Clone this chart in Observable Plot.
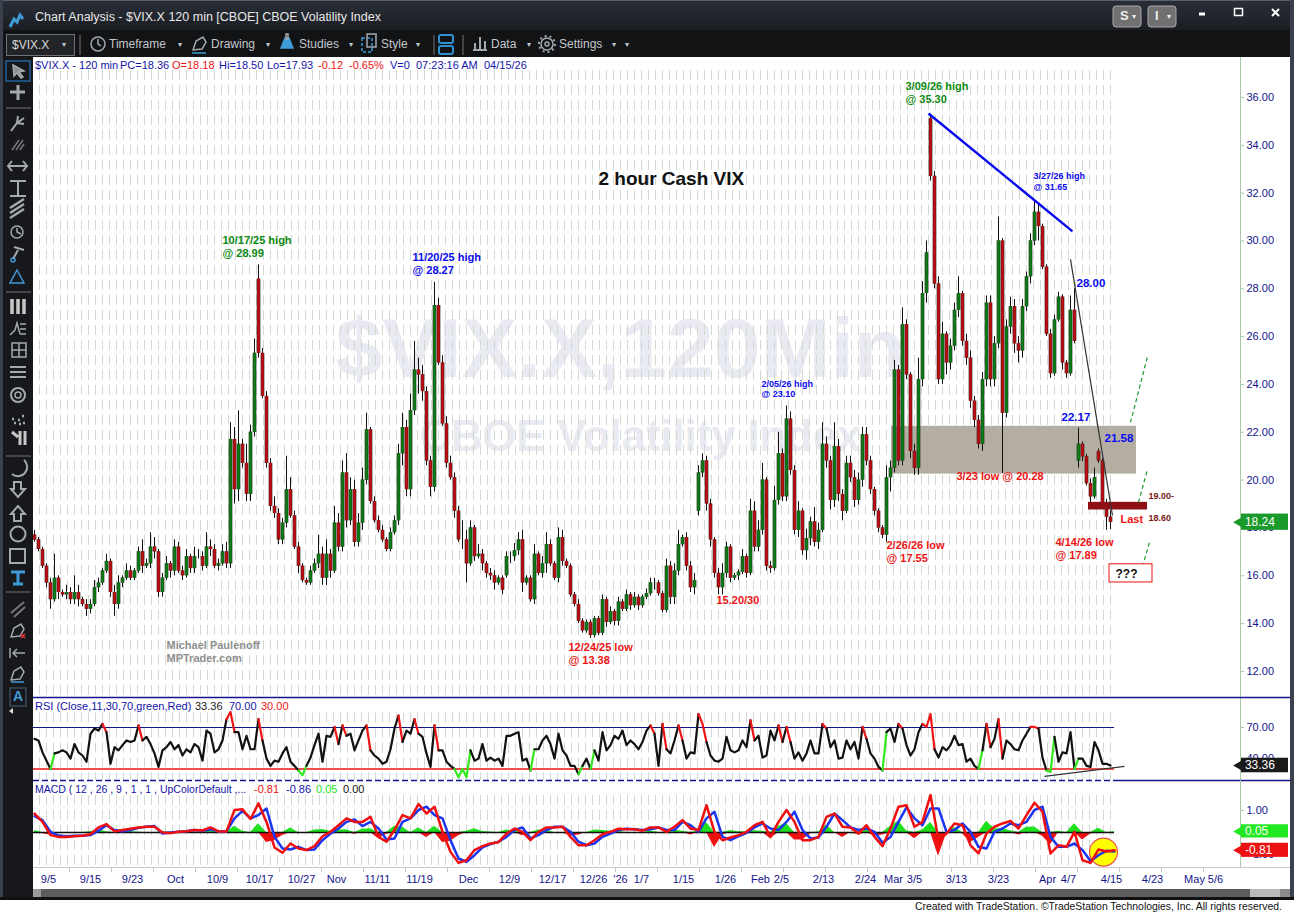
<!DOCTYPE html>
<html>
<head>
<meta charset="utf-8">
<script src="https://cdn.jsdelivr.net/npm/d3@7"></script>
<script src="https://cdn.jsdelivr.net/npm/@observablehq/plot@0.6"></script>
<style>
html,body{margin:0;padding:0;background:#fff}
#root{position:relative;width:1294px;height:913px;overflow:hidden;background:#fff;font-family:"Liberation Sans",Arial,sans-serif}
#root>*{position:absolute}
.t{white-space:nowrap;font-size:11px;line-height:13px}
.tb{white-space:nowrap;font-size:12px;line-height:14px;color:#c4c8cc}
.ar{color:#c4c8cc;font-size:8px;line-height:10px}
svg{display:block}
</style>
</head>
<body>
<div id="root"></div>
<script>
// ---------- price series: one 120-minute bar per entry ----------
const closes = [
17.5,17.1,16.4,15.7,15.0,15.9,15.3,15.2,15.3,15.0,
15.3,15.0,14.8,14.6,14.8,15.5,15.7,16.2,16.6,15.3,
14.8,15.7,15.9,16.2,15.9,16.2,17.0,16.4,16.5,17.2,
17.0,15.3,15.9,16.5,16.2,17.2,16.2,16.0,16.8,16.3,
16.8,16.8,16.4,17.2,17.1,16.4,16.5,17.0,16.5,21.7,
19.6,21.5,20.7,19.4,22.0,25.3,25.3,23.5,20.7,18.9,
18.6,17.5,18.2,19.6,18.5,17.2,16.4,15.8,15.7,16.2,
16.5,16.9,15.9,16.9,16.2,18.2,17.2,20.3,18.3,19.6,
17.4,18.2,20.0,22.1,19.1,18.3,17.9,17.5,17.1,17.8,
18.3,21.1,22.2,19.6,22.9,24.6,24.4,23.7,20.8,19.7,
27.3,24.9,22.35,20.7,20.1,18.7,17.5,17.5,16.5,18.0,
16.8,16.9,16.5,16.1,16.0,15.7,15.9,15.4,16.8,16.8,
17.05,17.5,15.7,15.9,15.0,16.9,16.1,16.5,17.3,16.5,
15.9,17.6,16.6,16.4,15.2,14.8,14.1,13.7,14.05,13.5,
14.2,13.6,15.0,14.05,14.5,14.1,14.9,14.6,15.2,14.75,
15.1,14.75,15.1,15.25,15.7,15.7,15.25,14.55,16.4,15.1,
16.2,17.3,17.6,16.4,15.5,15.8,20.3,20.8,19.0,17.5,
16.1,15.5,16.1,17.2,15.9,16.0,16.15,16.8,16.1,18.7,
17.2,17.9,20.0,16.4,16.3,19.15,21.1,19.3,22.55,20.4,
17.9,18.7,17.05,17.55,18.25,17.4,17.9,21.5,20.8,19.15,
21.4,19.4,18.7,20.7,20.1,19.15,20.0,21.9,20.8,19.6,
18.7,18.0,17.7,20.1,20.5,24.6,20.8,26.5,24.4,21.2,
20.5,24.2,27.8,29.5,32.7,28.2,24.2,26.1,24.9,25.6,
27.1,27.8,25.8,25.1,23.3,22.5,21.5,24.2,27.4,24.2,
25.7,30.0,22.8,26.4,27.25,25.7,25.4,27.25,28.5,30.0,
31.2,30.6,28.9,26.1,24.45,26.7,27.65,24.9,24.45,27.1,
25.8,21.5,20.97,19.85,19.3,20.1,20.8,19.0,18.45,18.24];
const wickUp = [
.2,.1,.1,.1,.2,1.0,.1,.1,.3,.2,
.7,.3,.1,.2,.2,.3,.2,.1,.3,.1,
.3,.3,.1,.3,.2,.1,.2,.5,.2,.6,
.4,.1,.2,.3,.1,.3,.2,.2,.3,.1,
.4,.3,.2,.6,.3,.2,.2,.3,.4,.7,
.5,1.4,.2,.8,.3,.6,.6,.2,.2,.2,
.4,.2,.2,1.4,.5,.2,.2,.1,.1,.2,
.2,.8,.3,.6,.2,.7,.4,.5,.8,.5,
.4,.4,.5,.7,.1,.2,.2,.2,.1,.2,
.2,.4,.6,.3,.7,1.2,.5,.4,.2,.2,
.97,.3,.3,.3,.3,.2,.2,.8,.4,.3,
.1,.4,.2,.1,.2,.2,.1,.1,.2,.2,
.3,.3,.4,.1,.1,.4,.1,.3,.5,.2,
.1,.4,.3,.1,.1,.1,.2,.1,.1,.1,
.1,.1,.2,.1,.2,.1,.2,.1,.2,.1,
.2,.1,.1,.2,.2,.2,.1,.1,.3,.2,
.3,.6,.1,.2,.2,.3,.3,.3,.2,.2,
.1,.2,.4,.2,.1,.1,.1,.3,.1,.5,
.4,.4,.7,.1,.2,.6,.9,.2,.55,.3,
.2,.4,.1,.4,.2,.6,.3,.9,.3,.2,
1.0,.3,.2,.3,.3,.3,.3,.3,.3,.2,
.1,.1,.1,.5,.3,.4,.2,.7,.2,.1,
.3,.9,.5,.5,.2,.2,.3,.5,.1,.3,
.3,.7,.1,.3,.3,.2,.2,.3,.3,.3,
.3,1.0,.1,.3,.4,.3,.3,.3,.2,.3,
.45,.4,.1,.1,.2,.2,.2,.1,.1,.6,
.9,.67,.1,.1,.2,.4,.1,.1,.2,.26];
const wickDown = [
.1,.1,.1,.2,.4,.1,.3,.1,.2,.2,
.2,.3,.1,.3,.2,.1,.2,.1,.1,.2,
.5,.2,.2,.1,.1,.1,.1,.3,.1,.2,
.3,.2,.2,.1,.3,.2,.1,.2,.1,.2,
.2,.1,.2,.1,.3,.1,.2,.1,.2,.2,
.6,.5,.2,.3,.3,.2,.2,.1,.2,.2,
.2,.2,.2,.2,.1,.1,.3,.1,.1,.1,
.1,.2,.3,.3,.3,.1,.2,.2,.3,.2,
.2,.2,.3,.2,.1,.1,.1,.1,.1,.1,
.1,.2,.5,.3,.3,.2,.8,.4,.2,.4,
.2,.1,.1,.2,.1,.3,.1,.4,.8,.1,
.2,.1,.3,.2,.2,.3,.1,.2,.1,.3,
.2,.2,.4,.1,.1,.2,.1,.2,.4,.1,
.1,.2,.2,.1,.1,.1,.1,.1,.1,.12,
.1,.1,.1,.2,.1,.2,.2,.1,.1,.2,
.1,.2,.1,.1,.1,.3,.1,.1,.1,.3,
.3,.2,.1,.2,.2,.3,.2,.2,.3,.3,
.2,.3,.3,.2,.2,.1,.2,.1,.2,.1,
.2,.2,.2,.2,.2,.1,.2,.2,.2,.2,
.2,.3,.2,.4,.3,.2,.3,.1,.3,.4,
.3,.3,.4,.1,.2,.3,.2,.3,.2,.2,
.2,.2,.15,.3,.6,.2,.2,.2,.2,.3,
.3,.3,.3,.4,.2,.2,.2,.2,.5,.3,
.2,.3,.2,.3,.3,.3,.2,.3,.3,.3,
.3,.2,2.52,.2,.3,.4,.5,.3,.2,.3,
.2,.6,.1,.1,.2,.1,.1,.3,.2,.1,
.1,.3,.2,.1,.3,.1,.1,.1,.55,.31];
// bars that opened away from the prior close
const gapBars = [56,118,166,224,261,266];
const gapOpens = [28.4,16.0,18.7,35.1,20.8,21.2];

// ---------- RSI(11), one value per bar ----------
const rsi = [
59,57.5,46,38,30,45,46,48,46,40,
54,46,43,37,64,69,67,73.5,65.5,35,
51,48,53,57.5,56,57.5,72,57.5,61,54,
45,32,48,51,56,49,53,43,49,46,
54,51,38,67,64,46,49,57.5,78,85,
65.5,65.5,49,62,49,49,78,57.5,40,33,
38,37,45,51,37,33,28.5,24,33,41,
53,64,37,62,61,70.5,54,72,62,64,
48,57.5,67,72,48,43,40,35,37,49,
69,81.5,56,67,64,78,64,61,45,32,
72,48,48,37,33,30,22,30,22,48,
38,40,54,38,41,38,40,33,62,62,
64,65.5,38,40,28.5,49,49,57.5,62,54,
40,64,48,43,33,33,25,33,40,30,
48,38,65.5,48,53,62,59,67,53,57.5,
54,49,56,67,72,64,33,73.5,49,45,
57.5,72,57.5,40,46,45,83,73.5,56,43,
38,37,40,61,48,46,48,57.5,51,77,
57.5,62,41,43,67,57.5,72,56,70.5,56,
40,46,38,45,57.5,45,45,73.5,69,51,
57.5,40,41,57.5,49,56,40,70.5,59,45,
40,32,28.5,65.5,69,56,73.5,69,53,43,
49,65.5,73.5,70.5,83,49,41,51,48,53,
62,53,54,37,40,33,30,48,73.5,51,
59,78,40,57.5,54,49,48,57.5,64,70.5,
70.5,69,41,28.5,27,61,37,46,45,65.5,
30,40,40,33,32,56,48,35,35,33.36];
const rsiTrend = [{b1:252.5,v1:22.8,b2:272.5,v2:32.5}];

// ---------- MACD lines, one value every second bar ----------
const macdLine = [
.86,.48,-.12,-.20,-.20,-.17,-.15,-.08,.23,.38,
.05,.11,.17,.23,.26,.26,0,-.03,.03,.06,
.11,.09,.23,.05,.05,1.02,1.05,.61,1.32,.48,
-.68,-.92,-.50,-.73,-.80,-.62,-.17,.03,.33,.64,
.48,.48,.71,-.20,-.42,.11,.79,.64,1.29,.86,
1.17,.03,-.88,-1.38,-1.26,-.80,-.62,-.50,-.44,-.05,
.18,.03,-.35,.03,.23,.23,.26,-.20,-.58,-.58,
-.35,-.08,.03,.17,.15,.15,.08,.23,.23,.03,
.26,.56,.18,.11,1.24,.03,-.35,-.23,-.12,.03,
.33,.48,-.20,.48,1.02,.48,-.35,-.35,-.20,.71,
.86,.26,.23,-.05,.33,-.20,-.62,.18,1.17,1.24,
.26,.48,1.70,-.35,-.05,.41,.33,-.58,-.95,-.05,
.26,.41,.52,.18,.79,1.35,.94,-.95,-.58,-.65,
.03,-1.26,-1.38,-.77,-.86,-.81];
const macdSignal = [
.74,.56,.03,-.14,-.17,-.15,-.15,-.12,.08,.33,
.11,.06,.11,.21,.26,.29,-.05,0,.03,.06,
.11,.08,.14,.05,.05,.64,.98,.64,.79,1.09,
-.20,-.73,-.77,-.65,-.80,-.77,-.35,-.05,.18,.48,
.59,.29,.48,.18,-.32,-.27,.48,.64,1.02,1.17,
.79,.64,-.35,-1.18,-1.33,-1.03,-.68,-.53,-.42,-.20,
.11,.23,-.27,-.12,.11,.26,.26,.03,-.42,-.58,
-.50,-.20,-.05,.11,.17,.15,.11,.14,.23,.11,
.11,.48,.33,.03,.64,.94,-.20,-.35,-.17,-.02,
.23,.41,.18,.11,.48,.94,.11,-.27,-.23,.26,
.86,.56,.23,.11,.18,.03,-.47,-.20,.48,1.14,
.64,.33,1.09,1.09,.03,.11,.41,.03,-.65,-.73,
.03,.18,.41,.33,.48,1.02,1.17,-.20,-.65,-.65,
-.50,-.80,-1.29,-1.03,-.83,-.86];

// ---------- axes ----------
const priceTicks = [12,14,16,18,20,22,24,26,28,30,32,34,36];
const rsiTicks = [40,70];
const macdTicks = [-1,1];
const timeLabels = ["9/5","9/15","9/23","Oct","10/9","10/17","10/27","Nov","11/11","11/19","Dec","12/9","12/17","12/26","'26","1/7","1/15","1/26","Feb","2/5","2/13","2/24","Mar","3/5","3/13","3/23","Apr","4/7","4/15","4/23","May","5/6"];
const timeBars = [3.5,14,24.5,35.25,45.75,56.25,66.75,75.5,85.75,96.25,108.5,118.75,129.5,139.75,146.5,151.75,162.25,172.75,181.5,186.75,197.25,207.75,214.75,220,230.5,241,253.25,258.5,269.25,279.5,290,295.25];

// ---------- annotations (bar position, price) ----------
const greenNotes = [{t:"3/09/26 high\n@ 35.30",b:217.75,p:36.71},{t:"10/17/25 high\n@ 28.99",b:47,p:30.27}];
const blueNotes = [{t:"11/20/25 high\n@ 28.27",b:94.5,p:29.56}];
const blueSmallNotes = [{t:"2/05/26 high\n@ 23.10",b:181.75,p:24.23},{t:"3/27/26 high\n@ 31.65",b:249.75,p:32.89}];
const blueLevels = [{t:"28.00",b:260.5,p:28.5},{t:"22.17",b:256.75,p:22.87},{t:"21.58",b:267.5,p:21.99}];
const redNotes = [{t:"3/23 low @ 20.28",b:230.5,p:20.41},{t:"4/14/26 low\n@ 17.89",b:255.25,p:17.65},{t:"2/26/26 low\n@ 17.55",b:213,p:17.52},{t:"12/24/25 low\n@ 13.38",b:133.5,p:13.26},{t:"15.20/30",b:170.5,p:15.22},{t:"Last",b:271.5,p:18.61}];
const maroonNotes = [{t:"19.00-",b:278.5,p:19.51},{t:"18.60",b:278.5,p:18.59}];
const authorNote = [{t:"Michael Paulenoff\nMPTrader.com",b:33,p:13.34}];
const headline = [{t:"2 hour Cash VIX",b:141,p:33.03}];
const queryNote = [{t:"???",b:270.25,p:16.35}];
const queryBox = [{b1:268.75,b2:279.5,p1:15.72,p2:16.48}];
const grayZone = [{b1:214.25,b2:275.5,p1:20.25,p2:22.25}];
const redZone = [{b1:263.5,b2:278.25,p1:18.75,p2:19.07}];
const blueTrend = [{b1:223.5,p1:35.33,b2:259.5,p2:30.4}];
const blackTrend = [{b1:259,p1:29.23,b2:269.5,p2:18.52}];
const greenPaths = [{b1:274,p1:22.41,b2:278.25,p2:25.17},{b1:276,p1:19.07,b2:278.25,p2:20.45},{b1:276.5,p1:16.1,b2:278.75,p2:17.4}];
const watermarks = [{t:"$VIX.X,120Min",b:75.25,p:25.42,s:84},{t:"CBOE Volatility Index",b:96.25,p:21.79,s:43.5}];
const lastPrice = 18.24, lastRsi = 33.36, lastHist = 0.05, lastMacd = -0.81;

// ---------- derived tables ----------
const gapMap = new Map(gapBars.map((b,i)=>[b,gapOpens[i]]));
const bars = closes.map((c,i)=>{
  const o = gapMap.has(i) ? gapMap.get(i) : (i ? closes[i-1] : c+.2);
  return {i,o,c,h:Math.max(o,c)+wickUp[i],l:Math.min(o,c)-wickDown[i]};
});
const rsiRows = rsi.map((v,i)=>({i,v}));
const macdRows = macdLine.map((m,k)=>({i:k*2,m,s:macdSignal[k],h:(m-macdSignal[k])*0.75}));
const labelAt = new Map(timeBars.map((b,i)=>[b,timeLabels[i]]));

// ---------- shared helpers ----------
const FONT = '"Liberation Sans",Arial,sans-serif';
const X_DOMAIN = [-0.25,301.5];          // chart body; the axis strip lies to the right
const BAR_RIGHT = 314;                   // right edge of the white pane
const gridBars = d3.range(1.25,270,1.75);
const GRID = "#d2d9d2", NAVY = "#14148c";
const axisColor = "#a9c9a9";

function pane(top,height,domain,marks){
  const svg = Plot.plot({
    width:1257,height,marginLeft:0,marginRight:50,marginTop:0,marginBottom:0,
    x:{domain:X_DOMAIN,axis:null},
    y:{domain,axis:null},
    color:{type:"identity"},
    style:{background:"transparent",overflow:"visible",fontFamily:FONT},
    marks
  });
  svg.style.left = "33px"; svg.style.top = top+"px";
  return svg;
}
const notes = (data,fill,size,weight="bold",opts={}) => Plot.text(data,{x:"b",y:"p",text:"t",fill,fontSize:size,fontWeight:weight,textAnchor:"start",lineAnchor:"top",lineHeight:1.2,...opts});
function priceAxis(ticks,fmt=".2f"){
  return Plot.axisY({anchor:"right",ticks,tickFormat:fmt,tickSize:3,tickPadding:3,fontSize:11,color:NAVY,stroke:axisColor,label:null});
}
function tag(value,fill,halfHeight,text){
  const row=[{v:value}];
  return [
    Plot.rect(row,{x1:()=>301.75,x2:()=>313.5,y1:d=>d.v-halfHeight,y2:d=>d.v+halfHeight,fill}),
    Plot.dot(row,{x:()=>301.6,y:"v",symbol:"triangle",r:5,rotate:-90,fill}),
    Plot.text(row,{x:()=>302.6,y:"v",text:()=>text,fill:"#fff",fontSize:12,textAnchor:"start"})
  ];
}

const root = document.getElementById("root");

// ---------- window chrome ----------
function box(l,t,w,h,bg,extra=""){const d=document.createElement("div");d.style.cssText=`left:${l}px;top:${t}px;width:${w}px;height:${h}px;background:${bg};${extra}`;root.appendChild(d);return d;}
function label(cls,l,t,txt,color,extra=""){const d=document.createElement("div");d.className=cls;d.textContent=txt;d.style.cssText=`left:${l}px;top:${t}px;${color?`color:${color};`:""}${extra}`;d.style.position="absolute";root.appendChild(d);return d;}

box(0,0,1294,30,"linear-gradient(#2a2e37,#1b1e24)");
box(0,0,1294,1,"#59606c");
box(0,30,1294,27,"#121315");
box(0,57,33,843,"#17181b");
box(0,0,3,900,"#3a404b");
box(1290,0,4,900,"#3a404b");
box(33,57,1257,832,"#fff");
box(33,889,1257,8,"#5c5c5c");
box(33,889,8,8,"#9a9a9a");
box(1250,889,30,8,"#b9b9b9");
box(1280,889,10,8,"#8a8a8a");
box(0,897,1294,3,"#111");

label("tb",35,10,"Chart Analysis - $VIX.X 120 min [CBOE] CBOE Volatility Index","#e8e8e8","font-size:12.5px");
box(6,34,69,22,"#232427","border:1px solid #6f7276;box-sizing:border-box");
label("tb",12,38,"$VIX.X","#d8d8d8");
[["Timeframe",109],["Drawing",211],["Studies",299],["Style",381],["Data",491],["Settings",559]].forEach(([t,x])=>label("tb",x,37,t));
[62,178,266,349,416,527,612,625].forEach(x=>label("ar",x,40,"▾"));

// toolbar, strip and window-control icons
const icons = document.createElementNS("http://www.w3.org/2000/svg","svg");
icons.setAttribute("width",1294);icons.setAttribute("height",913);
icons.style.left="0";icons.style.top="0";icons.style.pointerEvents="none";
icons.innerHTML = `
<g fill="none" stroke="#a5a9ae" stroke-width="1.5">
<path d="M10 27l4-8 3 3 3-7 3 4" stroke="#3f9ad8" stroke-width="3"/>
<circle cx="98" cy="44" r="7"/><path d="M98 39v5l3 2"/>
<path d="M193 50l3-9 7-4 3 5-4 7z"/><path d="M192 53h14" stroke="#3f9ad8"/>
<path d="M285 38h4l4 10h-12z" fill="#3f9ad8" stroke="#3f9ad8"/><path d="M286 34h2v5h-2z"/>
<rect x="362" y="38" width="10" height="14" stroke="#3f9ad8" stroke-dasharray="3 2"/><rect x="367" y="34" width="9" height="13"/>
<rect x="439" y="35" width="14" height="8" rx="2" stroke="#2f8fd0" stroke-width="2"/><rect x="439" y="46" width="14" height="8" rx="2" stroke="#2f8fd0" stroke-width="2"/>
<path d="M473 50h14M475 49v-6M480 49v-12M485 49v-8" stroke-width="2"/>
<circle cx="547" cy="44" r="6"/><circle cx="547" cy="44" r="2"/><circle cx="547" cy="44" r="8" stroke-dasharray="2 3" stroke-width="2"/>
<path d="M80 35v20M434 35v20M463 35v20" stroke="#555"/>
<rect x="6" y="61" width="24" height="20" stroke="#1f5f9c"/>
<path d="M13 65l11 6-5 1 4 5-2 1-4-5-3 3z" fill="#8c9196"/>
<path d="M18 85v15M10 92h15" stroke-width="3"/>
<path d="M6 108h25" stroke="#555"/>
<path d="M11 131l6-8 7-5M17 123l7 1M17 123l1-7" stroke-width="2"/>
<path d="M12 150l7-10M16 150l7-10M20 150l4-6" stroke="#777"/>
<path d="M9 166h17M12 161l-4 5 4 5M23 161l4 5-4 5" stroke-width="2"/>
<path d="M18 181v15M10 181h16M10 196h16" stroke-width="2"/>
<path d="M10 208l14-9M10 213l14-9M10 218l14-9" stroke-width="2.5"/>
<circle cx="17" cy="232" r="6"/><path d="M17 228v4l4 2"/>
<path d="M14 247l10 3M18 250l-5 9" stroke-width="2"/><circle cx="13" cy="260" r="2" stroke="#3f9ad8"/>
<path d="M17 270l7 13h-14z" stroke="#3f9ad8"/>
<path d="M6 292h25" stroke="#555"/>
<path d="M12 299v15M18 299v15M24 299v15" stroke-width="3.5" stroke="#c8c8c8"/>
<path d="M10 335l5-5 2-7 3 11M20 324h6M20 329h6M20 334h6" stroke-width="1.5"/>
<path d="M12 343h14v14h-14zM12 350h14M19 343v14"/>
<path d="M10 367h16M10 372h16M10 377h16" stroke-width="2"/>
<circle cx="18" cy="395" r="7" stroke-width="2"/><circle cx="18" cy="395" r="3"/>
<path d="M14 423h2M18 420h2M22 416h2M12 419h2M19 424h2M23 423h2" stroke-width="2.5"/>
<path d="M12 432l6 5M20 431v14M25 431v14" stroke-width="3" stroke="#c8c8c8"/>
<path d="M6 456h25" stroke="#555"/>
<path d="M24 460a9 9 0 0 1-12 14" stroke-width="2"/>
<path d="M14 482h7v7h4l-7 8-7-8h3z" stroke-width="2"/>
<path d="M14 521h7v-7h4l-7-8-7 8h3z" stroke-width="2"/>
<circle cx="18" cy="534" r="7.5" stroke-width="2"/>
<rect x="10" y="549" width="15" height="14" stroke-width="2"/>
<path d="M11 572h14M18 572v12M13 584h10" stroke="#3f9ad8" stroke-width="3"/>
<path d="M6 592h25" stroke="#555"/>
<path d="M11 613l13-11M14 617l11-10" stroke="#777" stroke-width="2"/>
<path d="M11 637l3-9 7-4 3 5-4 7z"/><path d="M21 634l4 4M25 634l-4 4" stroke="#e33"/>
<path d="M10 648v10M13 653h12M17 649l-4 4 4 4" stroke-width="1.5"/>
<path d="M11 680l3-9 7-4 3 5-4 7z"/><path d="M11 682h13" stroke="#3f9ad8"/>
<rect x="10" y="688" width="16" height="18" stroke="#3a4a5a"/>
<rect x="1113" y="6" width="28" height="21" rx="3" fill="#707070" stroke="#aaa" stroke-width="1"/>
<rect x="1148" y="6" width="28" height="21" rx="3" fill="#707070" stroke="#aaa" stroke-width="1"/>
<path d="M1199 14h6" stroke="#fff" stroke-width="3"/>
<rect x="1234.5" y="8.5" width="8" height="7" stroke="#fff"/>
<path d="M1272 9l7 7M1279 9l-7 7" stroke="#fff" stroke-width="2"/>
</g>
<path d="M9 711l4-3v6z" fill="#ddd"/>`;
root.appendChild(icons);
label("t",1120,9,"S","#eee","font-weight:bold;font-size:13px");
label("t",1155,9,"I","#eee","font-weight:bold;font-size:13px");
label("ar",1132,12,"▾","#eee");
label("ar",1167,12,"▾","#eee");
label("t",13,690,"A","#3f9ad8","font-weight:bold;font-size:14px");

// ---------- main price pane ----------
const gridRules = (top,bottom) => Plot.ruleX(gridBars,{x:d=>d,y1:()=>top,y2:()=>bottom,stroke:GRID,strokeWidth:1,strokeDasharray:"10,5"});
const fullRule = (v,stroke,w,dash) => Plot.ruleY([v],{x1:()=>-0.25,x2:()=>BAR_RIGHT,stroke,strokeWidth:w,strokeDasharray:dash});

root.appendChild(pane(57,640,[10.91,37.67],[
  Plot.text(watermarks,{x:"b",y:"p",text:"t",fontSize:"s",fontWeight:"bold",fill:"#eaeaf2",textAnchor:"start",lineAnchor:"middle"}),
  gridRules(37.13,10.91),
  Plot.rect(grayZone,{x1:"b1",x2:"b2",y1:"p1",y2:"p2",fill:"#b3ada2"}),
  priceAxis(priceTicks),
  Plot.ruleX([301.5],{stroke:axisColor,strokeWidth:1}),
  Plot.ruleX(bars,{x:"i",y1:"l",y2:"h",stroke:"#111",strokeWidth:1}),
  Plot.ruleX(bars,{x:"i",y1:"o",y2:"c",stroke:"#201010",strokeWidth:3.6}),
  Plot.ruleX(bars,{x:"i",y1:"o",y2:"c",stroke:d=>d.c<d.o?"#b80f12":"#0b7d16",strokeWidth:2.7}),
  Plot.rect(redZone,{x1:"b1",x2:"b2",y1:"p1",y2:"p2",fill:"#8e1015"}),
  Plot.link(blueTrend,{x1:"b1",y1:"p1",x2:"b2",y2:"p2",stroke:"#0a0aee",strokeWidth:2.4}),
  Plot.link(blackTrend,{x1:"b1",y1:"p1",x2:"b2",y2:"p2",stroke:"#333",strokeWidth:1.2}),
  Plot.link(greenPaths,{x1:"b1",y1:"p1",x2:"b2",y2:"p2",stroke:"#1a9a2a",strokeWidth:1.2,strokeDasharray:"4,3"}),
  notes(greenNotes,"#0d8a12",11),
  notes(blueNotes,"#0a0af0",11),
  notes(blueSmallNotes,"#0a0af0",9),
  notes(blueLevels,"#0a0af0",11.5),
  notes(redNotes,"#f01414",11),
  notes(maroonNotes,"#7a1a1a",9),
  notes(authorNote,"#909090",11),
  notes(headline,"#111",19),
  Plot.rect(queryBox,{x1:"b1",x2:"b2",y1:"p1",y2:"p2",fill:"#fff",stroke:"#ee1111"}),
  notes(queryNote,"#111",12),
  ...tag(lastPrice,"#1a9a2a",0.34,"18.24")
]));

// ---------- RSI pane ----------
root.appendChild(pane(697,83,[18.9,98.9],[
  gridRules(84,18.9),
  priceAxis(rsiTicks),
  Plot.ruleX([301.5],{stroke:axisColor,strokeWidth:1}),
  Plot.ruleY([70],{x1:()=>-0.25,x2:()=>270,stroke:"#14148c",strokeWidth:1.2}),
  Plot.ruleY([30],{x1:()=>-0.25,x2:()=>270,stroke:"#ee1111",strokeWidth:1.4}),
  Plot.line(rsiRows,{x:"i",y:"v",z:null,stroke:d=>d.v>70?"#f01414":d.v<=30.2?"#33e81e":"#111",strokeWidth:2.2,curve:"linear"}),
  Plot.link(rsiTrend,{x1:"b1",y1:"v1",x2:"b2",y2:"v2",stroke:"#333",strokeWidth:1.2}),
  fullRule(98.9,"#14148c",1.4),
  Plot.ruleY([18.9],{x1:()=>-0.25,x2:()=>270,stroke:"#14148c",strokeWidth:1.4,strokeDasharray:"6,3"}),
  Plot.ruleY([18.9],{x1:()=>270,x2:()=>BAR_RIGHT,stroke:"#14148c",strokeWidth:1.4}),
  ...tag(lastRsi,"#1a1a1a",7,"33.36")
]));

// ---------- MACD pane ----------
root.appendChild(pane(780,87,[-1.59,2.36],[
  gridRules(1.68,-1.59),
  priceAxis(macdTicks),
  Plot.ruleX([301.5],{stroke:axisColor,strokeWidth:1}),
  Plot.areaY(macdRows,{x:"i",y:d=>Math.max(d.h,0),fill:"#1ee01e"}),
  Plot.areaY(macdRows,{x:"i",y:d=>Math.min(d.h,0),fill:"#ee1111"}),
  Plot.ruleY([0],{x1:()=>-0.25,x2:()=>270,stroke:"#111",strokeWidth:1.3}),
  Plot.dot([{b:267.25,v:-0.89}],{x:"b",y:"v",r:14,fill:"#ffff00",stroke:"#e85050",strokeWidth:1.2}),
  Plot.line(macdRows,{x:"i",y:"s",stroke:"#1a36f0",strokeWidth:2.5}),
  Plot.line(macdRows,{x:"i",y:"m",stroke:"#f00f0f",strokeWidth:2.5}),
  fullRule(-1.59,"#c8c8c8",1),
  ...tag(lastHist,"#22e822",0.3,"0.05"),
  ...tag(lastMacd,"#ee1111",0.32,"-0.81")
]));

// ---------- time axis ----------
const timeAxis = Plot.plot({
  width:1257,height:22,marginLeft:0,marginRight:50,marginTop:0,marginBottom:22,
  x:{domain:X_DOMAIN,axis:null},
  style:{background:"transparent",overflow:"visible",fontFamily:FONT},
  marks:[
    Plot.axisX({anchor:"bottom",ticks:d3.range(8.75,300,10.5),tickSize:5,tickFormat:()=>"",stroke:"#b8d0b8",label:null}),
    Plot.axisX({anchor:"bottom",ticks:timeBars,tickSize:0,tickPadding:8,tickFormat:d=>labelAt.get(d),fontSize:11,color:NAVY,label:null})
  ]
});
timeAxis.style.left="33px";timeAxis.style.top="867px";
root.appendChild(timeAxis);

// ---------- legends above each pane ----------
const BLUE="#1414a8", RED="#f01414";
[["$VIX.X - 120 min",35,BLUE],["PC=18.36",120,BLUE],["O=18.18",172,RED],["Hi=18.50",219,BLUE],["Lo=17.93",267,BLUE],["-0.12",318,RED],["-0.65%",349,RED],["V=0",390,BLUE],["07:23:16 AM",416,BLUE],["04/15/26",484,BLUE]]
  .forEach(([t,x,c])=>label("t",x,59,t,c));
[["RSI (Close,11,30,70,green,Red)",35,BLUE],["33.36",195,"#222"],["70.00",229,BLUE],["30.00",261,RED]]
  .forEach(([t,x,c])=>label("t",x,700,t,c));
[["MACD ( 12 , 26 , 9 , 1 , 1 , UpColorDefault ,...",35,BLUE,"font-size:10.5px"],["-0.81",254,RED,""],["-0.86",286,BLUE,""],["0.05",316,"#22e822",""],["0.00",343,"#111",""]]
  .forEach(([t,x,c,e])=>label("t",x,783,t,c,e));

// ---------- footer ----------
label("t",915,900,"Created with TradeStation. ©TradeStation Technologies, Inc. All rights reserved.","#111","font-size:10.4px");
</script>
</body>
</html>
